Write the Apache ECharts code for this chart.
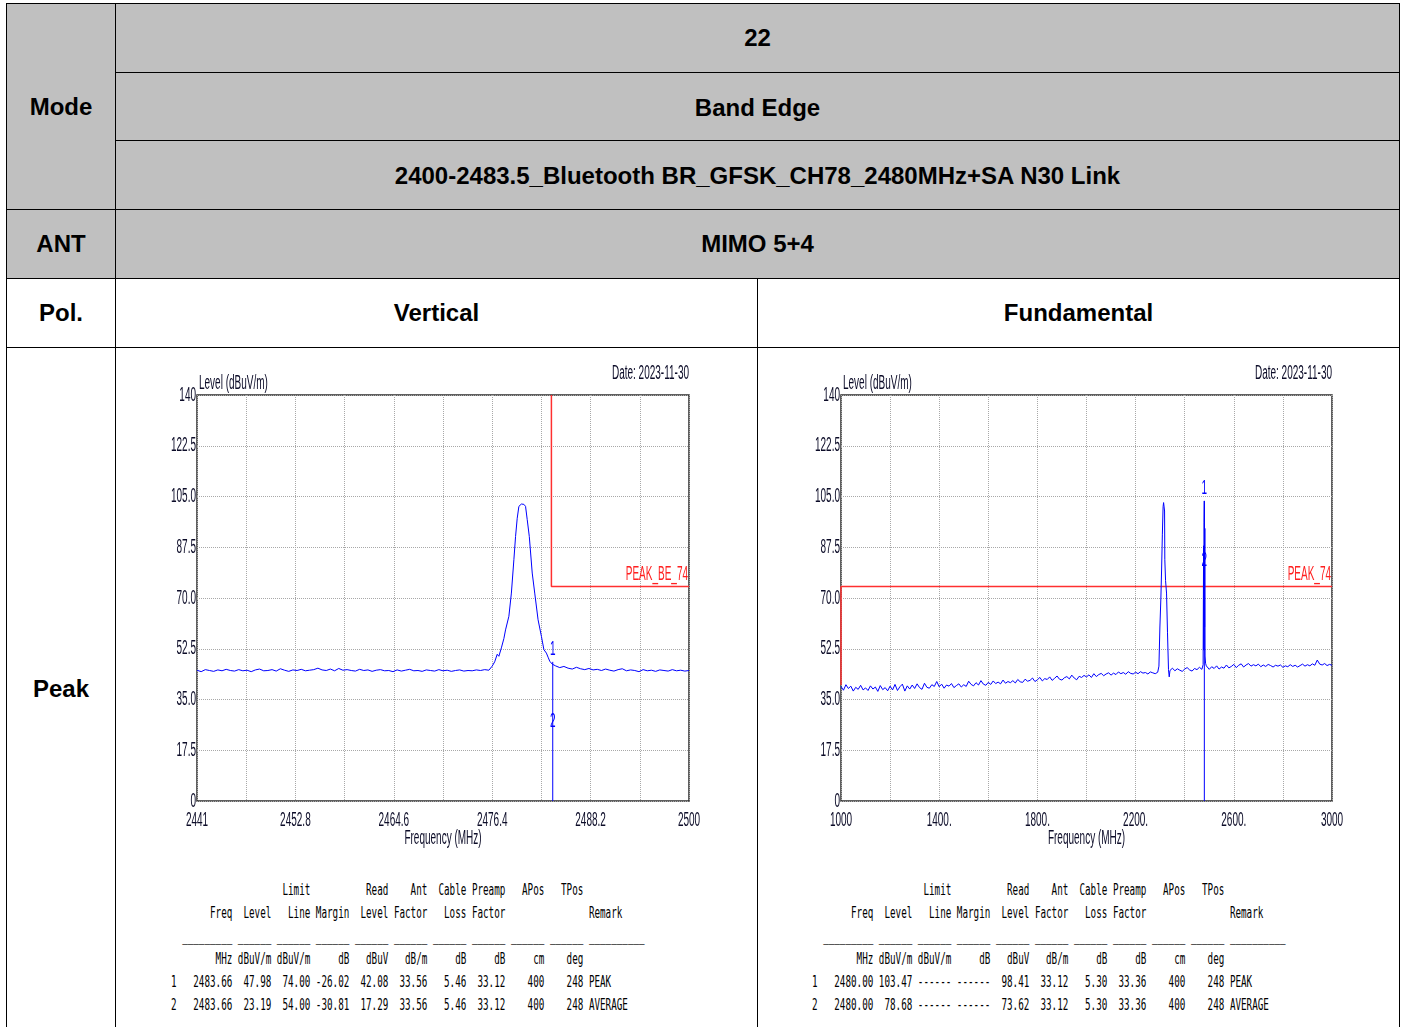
<!DOCTYPE html>
<html>
<head>
<meta charset="utf-8">
<script src="https://cdn.jsdelivr.net/npm/echarts@6.0.0/dist/echarts.min.js"></script>
<style>
  html, body { margin: 0; padding: 0; background: #fff; }
  body { width: 1402px; height: 1027px; position: relative; overflow: hidden; }
  .shade { position: absolute; left: 6px; top: 3px; width: 1393px; height: 275px; background: #c0c0c0; }
  .ln { position: absolute; background: #000; }
  .cell {
    position: absolute; display: flex; align-items: center; justify-content: center;
    font: bold 24px "Liberation Sans", Arial, sans-serif; color: #000; white-space: nowrap;
  }
  .chart { position: absolute; width: 630px; height: 520px; }
  pre.tbl {
    position: absolute; margin: 0; font-family: "DejaVu Sans Mono", monospace;
    font-size: 15px; line-height: 23px; color: #000;
    transform: scaleX(0.617); transform-origin: 0 0;
  }
</style>
</head>
<body>
<div class="shade"></div>

<!-- table lines -->
<div class="ln" style="left:6px;top:3px;width:1394px;height:1px"></div>
<div class="ln" style="left:6px;top:3px;width:1px;height:1024px"></div>
<div class="ln" style="left:1399px;top:3px;width:1px;height:1024px"></div>
<div class="ln" style="left:115px;top:3px;width:1px;height:1024px"></div>
<div class="ln" style="left:115px;top:72px;width:1285px;height:1px"></div>
<div class="ln" style="left:115px;top:140px;width:1285px;height:1px"></div>
<div class="ln" style="left:6px;top:209px;width:1394px;height:1px"></div>
<div class="ln" style="left:6px;top:278px;width:1394px;height:1px"></div>
<div class="ln" style="left:6px;top:347px;width:1394px;height:1px"></div>
<div class="ln" style="left:757px;top:278px;width:1px;height:749px"></div>

<!-- header texts -->
<div class="cell" style="left:116px;top:4px;width:1283px;height:68px">22</div>
<div class="cell" style="left:116px;top:74px;width:1283px;height:67px">Band Edge</div>
<div class="cell" style="left:116px;top:142px;width:1283px;height:68px">2400-2483.5_Bluetooth BR_GFSK_CH78_2480MHz+SA N30 Link</div>
<div class="cell" style="left:7px;top:4px;width:108px;height:205px">Mode</div>
<div class="cell" style="left:7px;top:210px;width:108px;height:68px">ANT</div>
<div class="cell" style="left:116px;top:210px;width:1283px;height:68px">MIMO 5+4</div>
<div class="cell" style="left:7px;top:279px;width:108px;height:68px">Pol.</div>
<div class="cell" style="left:116px;top:279px;width:641px;height:68px">Vertical</div>
<div class="cell" style="left:758px;top:279px;width:641px;height:68px">Fundamental</div>
<div class="cell" style="left:7px;top:658px;width:108px;height:62px">Peak</div>

<div id="chartVert" class="chart" style="left:120px;top:355px"></div>
<div id="chartFund" class="chart" style="left:762px;top:355px"></div>

<pre id="tblVert" class="tbl" style="left:171px;top:879px"></pre>
<pre id="tblFund" class="tbl" style="left:812px;top:879px"></pre>

<script>
// ---- Vertical (band edge) sweep, 2441-2500 MHz ----
const vertStart = 2441, vertStep = 0.5
const vertBelow = [
  45.1, 44.6, 45.3, 45.0, 44.7, 45.2, 44.9, 45.4, 45.0, 44.8,
  45.3, 44.9, 45.1, 44.6, 45.2, 45.5, 44.9, 45.0, 45.3, 44.8,
  45.6, 45.1, 44.7, 45.2, 45.0, 45.4, 44.9, 45.1, 45.3, 45.8,
  45.2, 45.0, 45.5, 44.9, 45.7, 45.1, 45.3, 45.0, 44.8, 45.4,
  45.0, 45.2, 44.7, 45.1, 45.3, 44.9, 45.0, 44.6, 45.2, 44.8,
  45.1, 45.4, 44.9, 45.0, 44.7, 45.2, 45.0, 44.8, 45.3, 44.9,
  45.1, 44.7, 45.0, 45.2, 44.8, 45.0, 44.9, 45.2, 45.0, 45.3,
  45.1
]
const vertPeakFreq = [2476.1, 2476.4, 2476.7, 2477.0, 2477.2, 2477.5, 2477.8, 2478.0, 2478.4, 2478.7,
  2479.0, 2479.2, 2479.4, 2479.6, 2479.9, 2480.2, 2480.4, 2480.6, 2480.85, 2481.2,
  2481.5, 2481.9, 2482.3, 2482.6, 2482.9, 2483.1, 2483.3, 2483.6]
const vertPeakLevel = [45.3, 46.5, 48.0, 50.6, 49.9, 52.8, 56.0, 59.0, 63.7, 71.7,
  83.2, 91.2, 97.5, 101.6, 102.4, 102.3, 101.6, 97.0, 91.2, 78.6,
  71.7, 62.5, 56.8, 52.2, 51.0, 49.6, 48.2, 47.2]
const vertAboveStart = 2484
const vertAbove = [
  46.6, 46.0, 46.4, 45.8, 45.5, 46.1, 45.6, 45.3, 45.7, 45.2,
  45.4, 45.0, 45.5, 45.1, 44.8, 45.3, 45.6, 44.9, 45.2, 45.0,
  44.6, 45.3, 44.9, 45.1, 44.7, 45.2, 45.0, 44.8, 45.3, 44.9,
  45.1, 44.8, 45.0
]
const vertLimitFreq = [2483.5, 2483.5, 2500]
const vertLimitLevel = [140, 74, 74]
const vertMarkerFreq = [2483.66, 2483.66]
const vertMarkerLevel = [47.98, 23.19]
const vertXTicks = [2441, 2452.8, 2464.6, 2476.4, 2488.2, 2500]
const vertXLabels = ['2441', '2452.8', '2464.6', '2476.4', '2488.2', '2500']

// ---- Fundamental sweep, 1000-3000 MHz ----
const fundStart = 1000, fundStep = 10
const fundLow = [
  39.5, 38.2, 40.1, 38.8, 39.6, 37.9, 39.2, 38.5, 39.9, 38.3,
  39.0, 38.1, 39.7, 38.6, 39.3, 37.8, 39.8, 38.4, 39.1, 38.0,
  39.6, 38.3, 40.2, 38.1, 39.4, 40.3, 37.9, 39.7, 38.6, 40.0,
  38.8, 40.4, 39.1, 38.5, 40.6, 39.2, 38.9, 40.1, 39.5, 41.2,
  39.4, 40.3, 38.9, 40.0, 39.6, 40.5, 39.1, 39.8, 40.4, 39.3,
  40.1, 39.5, 41.3, 40.2, 39.7, 40.8, 40.0, 41.5, 40.3, 39.9,
  40.9, 40.2, 41.4, 40.5, 41.0, 40.4, 41.7, 40.6, 41.2, 40.8,
  41.5, 40.7, 41.9, 41.1, 40.9, 42.0, 41.3, 41.6, 42.4, 41.2,
  41.8, 42.6, 41.4, 42.2, 41.9, 42.8, 41.6, 42.3, 43.1, 42.0,
  41.7, 42.5, 42.9, 42.1, 43.4, 42.4, 41.8, 43.0, 42.6, 43.3,
  42.8, 43.5, 42.6, 43.9, 42.9, 43.6, 44.0, 43.2, 43.8, 44.2,
  43.4, 44.1, 43.6, 44.5, 43.9, 44.3, 43.7, 44.6, 44.0, 43.8,
  44.4, 43.9, 44.6, 44.1, 44.3, 43.8, 44.5, 44.2, 43.9, 44.4
]
const fundPeakFreq = [2291, 2295, 2299, 2303, 2306, 2309, 2312, 2314, 2316, 2318, 2319, 2322, 2326, 2330, 2334, 2337, 2340]
const fundPeakLevel = [44.0, 46.5, 60.0, 70.0, 80.0, 92.0, 101.5, 102.9, 103.3, 100.0, 83.2, 76.0, 71.7, 58.0, 45.3, 42.8, 45.0]
const fundMidStart = 2350
const fundMid = [45.8, 44.9, 45.6, 45.1, 44.7, 45.5, 46.0, 45.2, 44.8, 45.7, 45.3, 46.1, 45.4]
const fundSpikeFreq = [2472, 2475, 2477, 2478, 2479, 2480, 2481, 2482, 2483, 2485, 2488]
const fundSpikeLevel = [45.8, 47.0, 88.0, 52.0, 96.0, 103.47, 60.0, 94.0, 50.0, 47.5, 46.6]
const fundHighStart = 2490
const fundHigh = [
  46.0, 45.4, 46.3, 45.7, 46.6, 45.5, 46.2, 45.8, 46.9, 45.9,
  46.4, 47.1, 46.0, 46.8, 47.3, 46.2, 46.9, 47.4, 46.5, 47.0,
  46.6, 47.2, 46.3, 46.9, 46.4, 47.1, 46.7, 46.2, 46.8, 46.5,
  46.9, 46.1, 46.6, 46.3, 47.0, 46.4, 46.8, 46.2, 46.7, 47.2,
  46.5, 47.0, 46.6, 47.3, 46.8, 48.6, 47.2, 46.9, 47.4, 46.7,
  47.1, 46.8
]
const fundLimitFreq = [1000, 1000, 3000]
const fundLimitLevel = [40, 74, 74]
const fundMarkerFreq = [2480.00, 2480.00]
const fundMarkerLevel = [103.47, 78.68]
const fundXTicks = [1000, 1400, 1800, 2200, 2600, 3000]
const fundXLabels = ['1000', '1400.', '1800.', '2200.', '2600.', '3000']

const markerNames = ['1', '2']
const yTicks = [0, 17.5, 35, 52.5, 70, 87.5, 105, 122.5, 140]
const yLabels = ['0', '17.5', '35.0', '52.5', '70.0', '87.5', '105.0', '122.5', '140']

// ---- result tables ----
const colTop = ['', '', 'Limit', '', 'Read', 'Ant', 'Cable', 'Preamp', 'APos', 'TPos']
const colName = ['Freq', 'Level', 'Line', 'Margin', 'Level', 'Factor', 'Loss', 'Factor', '', '']
const colUnit = ['MHz', 'dBuV/m', 'dBuV/m', 'dB', 'dBuV', 'dB/m', 'dB', 'dB', 'cm', 'deg']
const vertRow1 = ['2483.66', '47.98', '74.00', '-26.02', '42.08', '33.56', '5.46', '33.12', '400', '248']
const vertRow2 = ['2483.66', '23.19', '54.00', '-30.81', '17.29', '33.56', '5.46', '33.12', '400', '248']
const fundRow1 = ['2480.00', '103.47', '------', '------', '98.41', '33.12', '5.30', '33.36', '400', '248']
const fundRow2 = ['2480.00', '78.68', '------', '------', '73.62', '33.12', '5.30', '33.36', '400', '248']
const remarks = ['PEAK', 'AVERAGE']

// plot text is a tall narrow face: normal face squeezed horizontally
const textFont = '20px "Liberation Sans", Arial, sans-serif'
const textSqueeze = 0.5
const textColor = '#0c0c28'
const gridTop = 40, gridHeight = 406

function sweep(start, step, levels) {
  return levels.map((v, i) => [+(start + i * step).toFixed(3), v])
}
function pairs(xs, ys) {
  return xs.map((x, i) => [x, ys[i]])
}

function makeOption(cfg) {
  return {
    animation: false,
    grid: {
      left: cfg.gridLeft, top: gridTop, width: cfg.gridWidth, height: gridHeight,
      show: true, borderColor: '#2b2b2b', borderWidth: 1.5, backgroundColor: '#fff'
    },
    xAxis: {
      type: 'value', min: cfg.xMin, max: cfg.xMax, interval: cfg.xInterval,
      axisLine: { show: false }, axisTick: { show: false }, axisLabel: { show: false },
      splitLine: { show: true, lineStyle: { color: '#a8a8a8', type: 'dotted', width: 1 } }
    },
    yAxis: {
      type: 'value', min: 0, max: 140, interval: 17.5,
      axisLine: { show: false }, axisTick: { show: false }, axisLabel: { show: false },
      splitLine: { show: true, lineStyle: { color: '#a8a8a8', type: 'dotted', width: 1 } }
    },
    series: [
      {
        type: 'line', data: cfg.limit, symbol: 'none', silent: true,
        lineStyle: { color: '#ff3030', width: 1.5 }
      },
      {
        type: 'line', data: cfg.trace, symbol: 'none', silent: true,
        lineStyle: { color: '#0000ff', width: 1 }
      },
      {
        type: 'line', data: cfg.markerLine, symbol: 'none', silent: true,
        lineStyle: { color: '#0000ff', width: 1 }
      }
    ]
  }
}

function squeezedText(x, y, text, align, vAlign, color) {
  return {
    type: 'text', x: x, y: y, scaleX: textSqueeze, silent: true,
    style: {
      text: text, font: textFont, fill: color || textColor,
      align: align, verticalAlign: vAlign, textAlign: align, textVerticalAlign: vAlign
    }
  }
}

// axis labels, titles and marker texts, placed through the chart's own scales
function addTexts(chart, cfg) {
  const px = p => chart.convertToPixel({ gridIndex: 0 }, p)
  const bottom = gridTop + gridHeight
  const right = cfg.gridLeft + cfg.gridWidth
  const els = []
  yTicks.forEach((v, i) => {
    const p = px([cfg.xMin, v])
    els.push(squeezedText(p[0] - 1, p[1], yLabels[i], 'right', 'middle'))
  })
  cfg.xTicks.forEach((v, i) => {
    const p = px([v, 0])
    els.push(squeezedText(p[0], bottom + 9, cfg.xLabels[i], 'center', 'top'))
  })
  els.push(squeezedText(cfg.gridLeft + 2, gridTop - 2, 'Level (dBuV/m)', 'left', 'bottom'))
  els.push(squeezedText(right, 18, 'Date: 2023-11-30', 'right', 'middle'))
  els.push(squeezedText(cfg.gridLeft + cfg.gridWidth / 2, 483, 'Frequency (MHz)', 'center', 'middle'))
  cfg.markers.forEach((m, i) => {
    const p = px(m)
    els.push(squeezedText(p[0], p[1] - 12, markerNames[i], 'center', 'middle', '#0000ff'))
  })
  const lp = px([cfg.xMax, 74])
  els.push(squeezedText(lp[0] - 1, lp[1] - 2, cfg.limitName, 'right', 'bottom', '#ff2020'))
  chart.setOption({ graphic: els })
}

const vertTrace = sweep(vertStart, vertStep, vertBelow)
  .concat(pairs(vertPeakFreq, vertPeakLevel))
  .concat(sweep(vertAboveStart, vertStep, vertAbove))

const fundTrace = sweep(fundStart, fundStep, fundLow)
  .concat(pairs(fundPeakFreq, fundPeakLevel))
  .concat(sweep(fundMidStart, fundStep, fundMid))
  .concat(pairs(fundSpikeFreq, fundSpikeLevel))
  .concat(sweep(fundHighStart, fundStep, fundHigh))

const vertCfg = {
  gridLeft: 77, gridWidth: 492,
  xMin: 2441, xMax: 2500, xInterval: 5.9,
  xTicks: vertXTicks, xLabels: vertXLabels,
  trace: vertTrace,
  limit: pairs(vertLimitFreq, vertLimitLevel),
  limitName: 'PEAK_BE_74',
  markerLine: [[vertMarkerFreq[0], vertMarkerLevel[0]], [vertMarkerFreq[0], 0]],
  markers: pairs(vertMarkerFreq, vertMarkerLevel)
}
const fundCfg = {
  gridLeft: 79, gridWidth: 491,
  xMin: 1000, xMax: 3000, xInterval: 200,
  xTicks: fundXTicks, xLabels: fundXLabels,
  trace: fundTrace,
  limit: pairs(fundLimitFreq, fundLimitLevel),
  limitName: 'PEAK_74',
  markerLine: [[fundMarkerFreq[0], fundMarkerLevel[0]], [fundMarkerFreq[0], 0]],
  markers: pairs(fundMarkerFreq, fundMarkerLevel)
}

const vertChart = echarts.init(document.getElementById('chartVert'))
vertChart.setOption(makeOption(vertCfg))
addTexts(vertChart, vertCfg)

const fundChart = echarts.init(document.getElementById('chartFund'))
fundChart.setOption(makeOption(fundCfg))
addTexts(fundChart, fundCfg)

// fixed-width result table under each plot
function tableLine(lead, cells, tail) {
  return lead + cells[0].padStart(10) + cells.slice(1).map(c => c.padStart(7)).join('') + (tail ? ' ' + tail : '')
}
function buildTable(row1, row2) {
  const rule = '  ' + '_'.repeat(9) + (' ' + '_'.repeat(6)).repeat(9) + ' ' + '_'.repeat(10)
  return [
    tableLine(' ', colTop, ''),
    tableLine(' ', colName, 'Remark'),
    rule,
    tableLine(' ', colUnit, ''),
    tableLine('1', row1, remarks[0]),
    tableLine('2', row2, remarks[1])
  ].join('\n')
}
document.getElementById('tblVert').textContent = buildTable(vertRow1, vertRow2)
document.getElementById('tblFund').textContent = buildTable(fundRow1, fundRow2)
</script>
</body>
</html>
